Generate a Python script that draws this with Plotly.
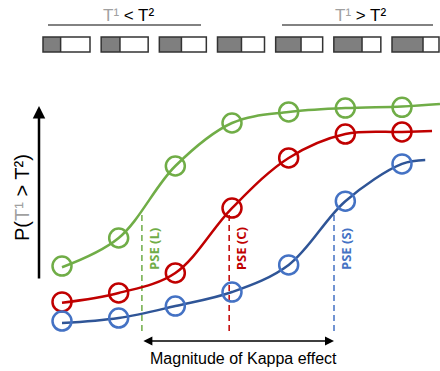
import plotly.graph_objects as go

# ---------------- data ----------------
levels = [1, 2, 3, 4, 5, 6, 7]
p_long = [0.278, 0.400, 0.713, 0.900, 0.948, 0.965, 0.968]      # green (L)
p_control = [0.122, 0.161, 0.248, 0.530, 0.748, 0.852, 0.861]   # red (C)
p_short = [0.039, 0.052, 0.104, 0.165, 0.283, 0.560, 0.722]     # blue (S)

# fitted curves (markers + curve end)
fit_x_long = levels + [7.67]
fit_long = [0.273, 0.400, 0.713, 0.900, 0.948, 0.965, 0.972, 0.983]
fit_x_control = levels + [7.53]
fit_control = [0.118, 0.161, 0.248, 0.530, 0.748, 0.852, 0.861, 0.865]
fit_x_short = levels + [7.41]
fit_short = [0.030, 0.052, 0.104, 0.165, 0.283, 0.560, 0.722, 0.739]

pse_values = {"L": 2.41, "C": 3.95, "S": 5.80}
pse_level = 0.5

box_gray_frac = [0.375, 0.40, 0.47, 0.51, 0.54, 0.60, 0.66]

GRAY_T = "#a0a0a0"
header_left = f"<span style='color:{GRAY_T}'>T¹</span> &lt; T²"
header_right = f"<span style='color:{GRAY_T}'>T¹</span> &gt; T²"
y_title = f"P(<span style='color:{GRAY_T}'>T¹</span> &gt; T²)"
x_title = "Magnitude of Kappa effect"

# ---------------- layout constants ----------------
W, H = 440, 371
STEP = 340 / 6          # px per level
X_FIRST = 62            # px position of level 1
Y_ZERO, Y_ONE = 330, 100
PPU = Y_ZERO - Y_ONE

GREEN = "#70AD47"
RED = "#C00000"
BLUE_LINE = "#2F5597"
BLUE_MARK = "#4472C4"


def px(x):
    return x / W


def py(y):
    return 1 - y / H


fig = go.Figure()

series = [
    (fit_x_long, fit_long, p_long, GREEN, GREEN),
    (fit_x_control, fit_control, p_control, RED, RED),
    (fit_x_short, fit_short, p_short, BLUE_LINE, BLUE_MARK),
]

DASH_BOTTOM = (Y_ZERO - 333) / PPU
pse_colors = {"L": GREEN, "C": RED, "S": BLUE_MARK}
for k, v in pse_values.items():
    fig.add_trace(go.Scatter(x=[v, v], y=[pse_level, DASH_BOTTOM], mode="lines",
                             line=dict(color=pse_colors[k], width=1.5, dash="6px,4px"),
                             hoverinfo="skip", showlegend=False))

for fx, fy, pts, lc, mc in series:
    fig.add_trace(go.Scatter(x=fx, y=fy, mode="lines", line=dict(color=lc, width=2.5, shape="spline", smoothing=1.0),
                             hoverinfo="skip", showlegend=False))
for fx, fy, pts, lc, mc in series:
    fig.add_trace(go.Scatter(x=levels, y=pts, mode="markers",
                             marker=dict(symbol="circle-open", size=19, color=mc, line=dict(width=2.5, color=mc)),
                             showlegend=False))

annotations = []
for k, v in pse_values.items():
    annotations.append(dict(x=v, y=(Y_ZERO - 249) / PPU, xref="x", yref="y", text=f"<b>PSE ({k})</b>",
                            showarrow=False, textangle=-90, xshift=12, xanchor="center", yanchor="middle",
                            font=dict(family="Open Sans", size=13, color=pse_colors[k])))

# bottom double arrow
Y_ARROW = (Y_ZERO - 341) / PPU
annotations.append(dict(x=pse_values["S"], y=Y_ARROW, ax=pse_values["L"], ay=Y_ARROW,
                        xref="x", yref="y", axref="x", ayref="y", text="", showarrow=True,
                        arrowhead=2, arrowsize=1.2, arrowwidth=1.5, arrowcolor="black",
                        arrowside="end+start", startarrowhead=2, startarrowsize=1.2))
annotations.append(dict(x=px(243), y=py(358), xref="paper", yref="paper", text=x_title, showarrow=False,
                        xanchor="center", yanchor="middle",
                        font=dict(family="Liberation Sans", size=16, color="black")))

# y arrow + title
annotations.append(dict(x=px(39), y=py(106), xref="paper", yref="paper", text="", showarrow=True,
                        ax=0, ay=174, arrowhead=2, arrowsize=1, arrowwidth=2.5, arrowcolor="black"))
annotations.append(dict(x=px(22), y=py(198), xref="paper", yref="paper", text=y_title, showarrow=False,
                        textangle=-90, xanchor="center", yanchor="middle",
                        font=dict(family="Liberation Sans", size=20, color="black")))

# header
annotations.append(dict(x=px(128), y=py(16), xref="paper", yref="paper", text=header_left, showarrow=False,
                        xanchor="center", yanchor="middle",
                        font=dict(family="Liberation Sans", size=17, color="black")))
annotations.append(dict(x=px(360), y=py(16), xref="paper", yref="paper", text=header_right, showarrow=False,
                        xanchor="center", yanchor="middle",
                        font=dict(family="Liberation Sans", size=17, color="black")))

shapes = []
for x0, x1 in [(48, 201), (282, 433)]:
    shapes.append(dict(type="line", xref="paper", yref="paper", x0=px(x0), x1=px(x1), y0=py(25), y1=py(25),
                       line=dict(color="#595959", width=1.5)))

BOX_LEFT, BOX_STEP, BOX_W, BOX_TOP, BOX_BOT = 43, (392 - 43) / 6, 47, 37, 52
for i, f in enumerate(box_gray_frac):
    x0 = BOX_LEFT + i * BOX_STEP
    shapes.append(dict(type="rect", xref="paper", yref="paper", x0=px(x0), x1=px(x0 + f * BOX_W),
                       y0=py(BOX_BOT), y1=py(BOX_TOP), fillcolor="#7f7f7f", line=dict(width=0)))
    shapes.append(dict(type="rect", xref="paper", yref="paper", x0=px(x0), x1=px(x0 + BOX_W),
                       y0=py(BOX_BOT), y1=py(BOX_TOP), fillcolor="rgba(0,0,0,0)",
                       line=dict(color="#333333", width=1.5)))
    shapes.append(dict(type="line", xref="paper", yref="paper", x0=px(x0 + f * BOX_W), x1=px(x0 + f * BOX_W),
                       y0=py(BOX_BOT), y1=py(BOX_TOP), line=dict(color="#333333", width=1.5)))

fig.update_layout(
    width=W, height=H, autosize=False,
    margin=dict(l=0, r=0, t=0, b=0, pad=0),
    paper_bgcolor="white", plot_bgcolor="white",
    xaxis=dict(range=[1 - X_FIRST / STEP, 1 + (W - X_FIRST) / STEP], visible=False, fixedrange=True),
    yaxis=dict(range=[(Y_ZERO - H) / PPU, Y_ZERO / PPU], visible=False, fixedrange=True),
    annotations=annotations, shapes=shapes, showlegend=False,
)

fig.write_html("out.html", config={"displayModeBar": False},
               post_script="document.body.style.margin='0';document.body.style.padding='0';"
                           "document.body.style.overflow='hidden';")
